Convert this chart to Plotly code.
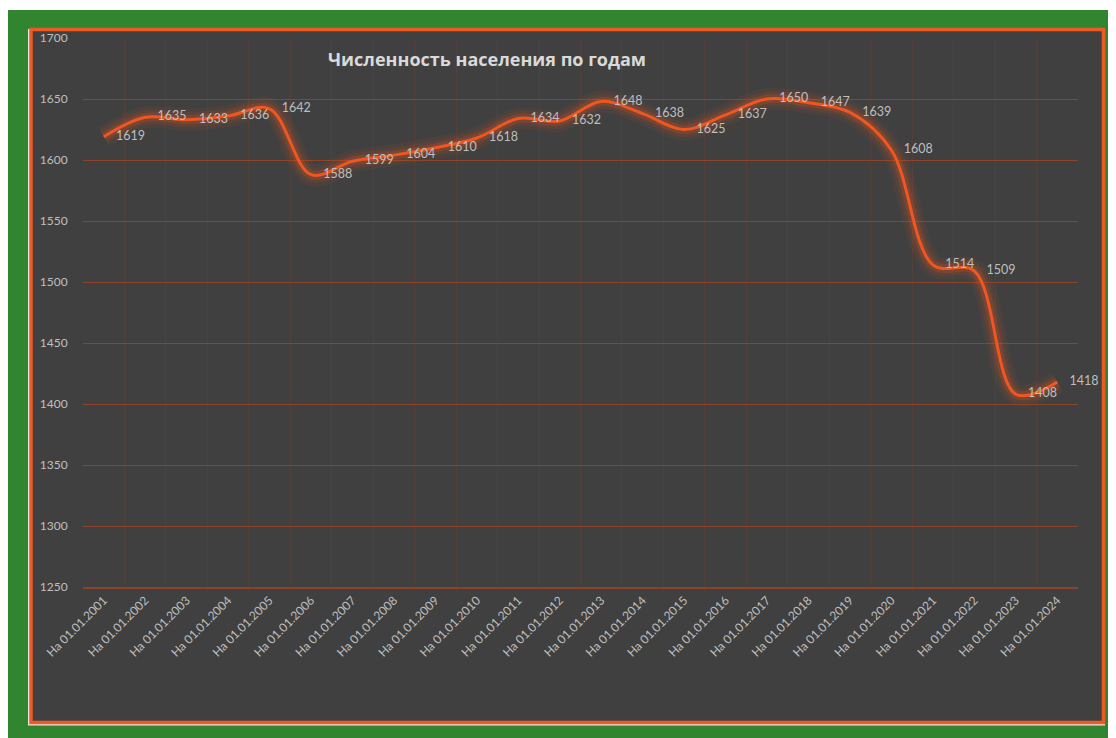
import plotly.graph_objects as go

years = list(range(2001, 2025))
categories = [f"На 01.01.{y}" for y in years]
population = [1619, 1635, 1633, 1636, 1642, 1588, 1599, 1604, 1610, 1618, 1634, 1632,
              1648, 1638, 1625, 1637, 1650, 1647, 1639, 1608, 1514, 1509, 1408, 1418]
labels = [str(v) for v in population]

O = 8  # page body margin
W, H = 1116 - O, 738 - O
L, R, T, B = 83 - O, 1078 - O, 38 - O, 587 - O


def px(x):
    return (x - O - L) / (R - L)


def py(y):
    return (B - (y - O)) / (B - T)


LINE = "#F0561F"
fig = go.Figure()

# glow layers
for w, op in [(22, 0.06), (15, 0.10), (9, 0.18)]:
    fig.add_trace(go.Scatter(x=categories, y=population, mode="lines",
                             line=dict(color=LINE, width=w, shape="spline", smoothing=1),
                             opacity=op, hoverinfo="skip", showlegend=False))
fig.add_trace(go.Scatter(x=categories, y=population, mode="lines",
                         line=dict(color=LINE, width=3, shape="spline", smoothing=1),
                         showlegend=False))
fig.add_trace(go.Scatter(x=categories, y=population, mode="markers+text",
                         marker=dict(size=18, color="rgba(0,0,0,0)"),
                         text=labels, textposition="middle right", cliponaxis=False,
                         textfont=dict(color="#BFBFBF", size=12.5, family="Lato"),
                         showlegend=False, hoverinfo="skip"))

shapes = [
    dict(type="rect", xref="paper", yref="paper", layer="below",
         x0=px(7), x1=px(1120), y0=py(10), y1=py(742),
         fillcolor="#31852E", line=dict(width=0)),
    dict(type="rect", xref="paper", yref="paper", layer="below",
         x0=px(28), x1=px(1105), y0=py(29), y1=py(725.5),
         fillcolor="#E6E6E6", line=dict(width=0)),
    dict(type="rect", xref="paper", yref="paper", layer="below",
         x0=px(31), x1=px(1103.5), y0=py(29.5), y1=py(722.5),
         fillcolor="#404040", line=dict(color="#EE5A24", width=3.5)),
]

fig.update_layout(
    width=W, height=H,
    margin=dict(l=L, r=W - R, t=T, b=H - B),
    paper_bgcolor="white",
    plot_bgcolor="#404040",
    shapes=shapes,
    title=dict(text="<b>Численность населения по годам</b>",
               x=(328 - O) / W, xanchor="left", xref="container",
               y=1 - (60 - O) / H, yanchor="middle", yref="container",
               font=dict(size=18, color="#D9D9D9", family="Open Sans")),
    xaxis=dict(type="category", tickson="boundaries", range=[-0.5, 23.5],
               showgrid=True, gridcolor="#54403A", gridwidth=1,
               showline=True, linecolor="#8C4328", linewidth=1.5,
               ticks="", tickangle=-45,
               tickfont=dict(color="#BFBFBF", size=12, family="Lato")),
    yaxis=dict(range=[1250, 1700], dtick=50, tick0=1250,
               showgrid=True, gridcolor="#8C4328", gridwidth=1,
               zeroline=False, showline=False,
               ticks="outside", ticklen=12, tickcolor="rgba(0,0,0,0)",
               tickfont=dict(color="#BFBFBF", size=12, family="Lato")),
)

fig.write_html("out.html")
